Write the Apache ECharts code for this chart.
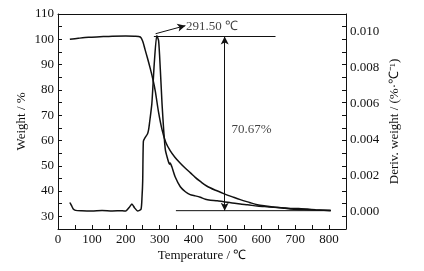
<!DOCTYPE html>
<html>
<head>
<meta charset="utf-8">
<script src="https://cdn.jsdelivr.net/npm/echarts@6/dist/echarts.min.js"></script>
<style>
  html, body { margin: 0; padding: 0; background: #fff; }
  #chart { width: 424px; height: 271px; }
</style>
</head>
<body>
<div id="chart"></div>
<script>
// TG curve: temperature (℃) vs weight (%)
const tgTemp = [35, 60, 90, 124, 160, 200, 225, 243, 250, 257, 264, 272, 280, 287, 297, 307, 318, 331, 345, 361, 376, 391, 405, 420, 440, 465, 489, 515, 538, 565, 588, 612, 637, 662, 686, 720, 760, 805]
const tgWeight = [100.0, 100.4, 100.8, 101.0, 101.2, 101.3, 101.2, 100.9, 99.2, 95.9, 92.6, 88.6, 84.2, 79.6, 71.0, 64.3, 59.3, 56.0, 53.4, 51.0, 49.0, 47.2, 45.4, 43.8, 41.9, 40.3, 39.0, 37.7, 36.6, 35.5, 34.6, 34.1, 33.7, 33.3, 32.9, 32.7, 32.5, 32.4]

// DTG curve: temperature (℃) vs deriv. weight (%·℃⁻¹)
const dtgTemp = [35, 40, 45, 52, 70, 100, 130, 160, 190, 200, 210, 218, 226, 235, 245, 248, 250, 252, 257, 264, 267, 270, 277, 284, 291.5, 297, 302, 307, 312, 317, 326, 329, 331, 336, 346, 361, 376, 390, 405, 420, 435, 450, 470, 489, 510, 538, 560, 588, 610, 637, 660, 686, 710, 736, 760, 785, 805]
const dtgValue = [0.00048, 0.00030, 0.00012, 0.00004, 0.00002, 0.00001, 0.00003, 0.00001, 0.00002, 0.00000, 0.00020, 0.00039, 0.00018, 0.00000, 0.00010, 0.00080, 0.00170, 0.00390, 0.00410, 0.00430, 0.00450, 0.00490, 0.00600, 0.00820, 0.00980, 0.00950, 0.00790, 0.00600, 0.00450, 0.00340, 0.00275, 0.00262, 0.00268, 0.00247, 0.00190, 0.00136, 0.00108, 0.00092, 0.00085, 0.00077, 0.00066, 0.00061, 0.00058, 0.00052, 0.00047, 0.00039, 0.00035, 0.00028, 0.00025, 0.00021, 0.00019, 0.00015, 0.00014, 0.00011, 0.00008, 0.00005, 0.00002]

// annotation values
const upperLevel = 101.1
const lowerLevel = 32.25
const upperLine = [[283, upperLevel], [642, upperLevel]]
const lowerLine = [[348, lowerLevel], [805, lowerLevel]]
const lossArrowTemp = 492
const peakArrow = [[288, 102.2], [376, 105.4]]
const peakLabel = [378, 105.2, '291.50 ℃']
const lossLabel = [512, 64.3, '70.67%']

const font = 'Liberation Serif'
const ink = '#111'

const chart = echarts.init(document.getElementById('chart'))

const zip = (xs, ys) => xs.map((x, i) => [x, ys[i]])

const option = {
  animation: false,
  textStyle: { fontFamily: font },
  grid: { left: 58, right: 78, top: 14, bottom: 42 },
  xAxis: [
    {
      type: 'value',
      min: 0,
      max: 850,
      interval: 50,
      name: 'Temperature / ℃',
      nameLocation: 'middle',
      nameGap: 20,
      nameMoveOverlap: false,
      nameTextStyle: { fontFamily: font, fontSize: 13, color: ink },
      axisLine: { onZero: false, lineStyle: { color: ink, width: 1 } },
      axisTick: { inside: true, length: 4, lineStyle: { color: ink } },
      axisLabel: {
        fontFamily: font, fontSize: 13, color: ink, margin: 4,
        formatter: v => (v % 100 === 0 && v <= 800 ? String(v) : '')
      },
      splitLine: { show: false }
    },
    {
      type: 'value',
      position: 'top',
      min: 0,
      max: 850,
      axisLine: { onZero: false, lineStyle: { color: ink, width: 1 } },
      axisTick: { show: false },
      axisLabel: { show: false },
      splitLine: { show: false }
    }
  ],
  yAxis: [
    {
      type: 'value',
      min: 25,
      max: 110,
      interval: 5,
      name: 'Weight / %',
      nameLocation: 'middle',
      nameGap: 30,
      nameMoveOverlap: false,
      nameTextStyle: { fontFamily: font, fontSize: 13, color: ink },
      axisLine: { show: true, onZero: false, lineStyle: { color: ink, width: 1 } },
      axisTick: { inside: true, length: 4, lineStyle: { color: ink } },
      axisLabel: {
        fontFamily: font, fontSize: 13, color: ink, margin: 4,
        formatter: v => (v % 10 === 0 ? String(v) : '')
      },
      splitLine: { show: false }
    },
    {
      type: 'value',
      position: 'right',
      min: -0.001,
      max: 0.011,
      interval: 0.001,
      name: 'Deriv. weight / (%·℃⁻¹)',
      nameLocation: 'middle',
      nameGap: 42,
      nameMoveOverlap: false,
      nameRotate: 90,
      nameTextStyle: { fontFamily: font, fontSize: 13, color: ink },
      axisLine: { show: false },
      axisTick: { show: false },
      axisLabel: {
        fontFamily: font, fontSize: 13, color: ink, margin: 4,
        formatter: v => {
          const n = Math.round(v * 1000)
          return n >= 0 && n % 2 === 0 && n <= 10 ? (n / 1000).toFixed(3) : ''
        }
      },
      splitLine: { show: false }
    },
    {
      type: 'value',
      position: 'right',
      min: 25,
      max: 110,
      interval: 5,
      axisLine: { show: true, onZero: false, lineStyle: { color: ink, width: 1 } },
      axisTick: { inside: true, length: 4, lineStyle: { color: ink } },
      axisLabel: { show: false },
      splitLine: { show: false }
    }
  ],
  series: [
    {
      name: 'TG',
      type: 'line',
      yAxisIndex: 0,
      data: zip(tgTemp, tgWeight),
      smooth: 0.3,
      showSymbol: false,
      lineStyle: { color: ink, width: 1.5 }
    },
    {
      name: 'DTG',
      type: 'line',
      yAxisIndex: 1,
      data: zip(dtgTemp, dtgValue),
      smooth: 0.2,
      showSymbol: false,
      lineStyle: { color: ink, width: 1.5 }
    },
    {
      name: 'upper',
      type: 'line',
      yAxisIndex: 0,
      data: upperLine,
      showSymbol: false,
      lineStyle: { color: ink, width: 1 }
    },
    {
      name: 'lower',
      type: 'line',
      yAxisIndex: 0,
      data: lowerLine,
      showSymbol: false,
      lineStyle: { color: ink, width: 1 }
    },
    {
      name: 'arrows',
      type: 'scatter',
      yAxisIndex: 0,
      data: [],
      markLine: {
        silent: true,
        symbolSize: [6, 8],
        label: { show: false },
        lineStyle: { color: ink, width: 1, type: 'solid' },
        data: [
          [{ coord: peakArrow[0], symbol: 'none' }, { coord: peakArrow[1], symbol: 'arrow' }],
          [{ coord: [lossArrowTemp, upperLevel], symbol: 'arrow' }, { coord: [lossArrowTemp, lowerLevel], symbol: 'arrow' }]
        ]
      }
    },
    {
      name: 'labels',
      type: 'scatter',
      yAxisIndex: 0,
      symbolSize: 0,
      data: [peakLabel, lossLabel],
      label: {
        show: true,
        position: 'right',
        distance: 0,
        fontFamily: font,
        fontSize: 13,
        color: ink,
        formatter: p => p.data[2]
      }
    }
  ]
}

chart.setOption(option)
</script>
</body>
</html>
